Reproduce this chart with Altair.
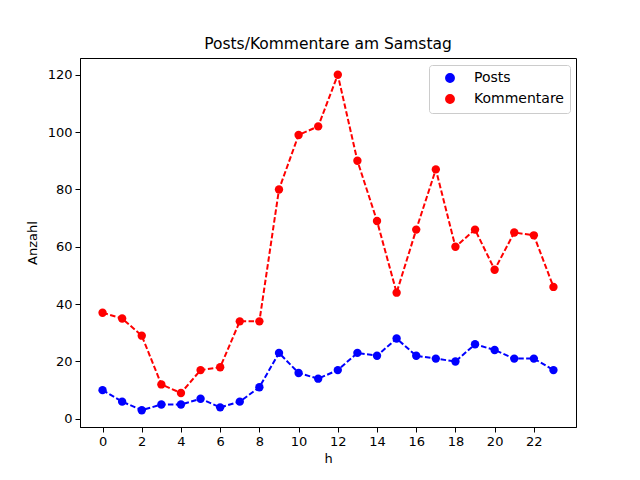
import altair as alt
import pandas as pd

hours = list(range(24))
posts = [10, 6, 3, 5, 5, 7, 4, 6, 11, 23, 16, 14, 17, 23, 22, 28, 22, 21, 20, 26, 24, 21, 21, 17]
kommentare = [37, 35, 29, 12, 9, 17, 18, 34, 34, 80, 99, 102, 120, 90, 69, 44, 66, 87, 60, 66, 52, 65, 64, 46]
series = ["Posts", "Kommentare"]
colors = ["#0000ff", "#ff0000"]

rows = []
for h, p, k in zip(hours, posts, kommentare):
    rows.append({"h": h, "Anzahl": p, "serie": "Posts"})
    rows.append({"h": h, "Anzahl": k, "serie": "Kommentare"})
df = pd.DataFrame(rows)

font = "DejaVu Sans"
x = alt.X("h:Q", title="h", scale=alt.Scale(domain=[-1.15, 24.15], nice=False, zero=False),
          axis=alt.Axis(values=list(range(0, 24, 2)), grid=False, tickSize=5, labelPadding=3,
                        titlePadding=4))
y = alt.Y("Anzahl:Q", title="Anzahl", scale=alt.Scale(domain=[-2.85, 125.85], nice=False, zero=False),
          axis=alt.Axis(values=list(range(0, 121, 20)), grid=False, tickSize=5, labelPadding=3,
                        titlePadding=8))
color = alt.Color("serie:N", scale=alt.Scale(domain=series, range=colors),
                  legend=alt.Legend(title=None, orient="none", legendX=349, legendY=7,
                                    symbolType="circle", symbolSize=70, symbolFillColor=None,
                                    labelFontSize=14, labelFont=font, rowPadding=5,
                                    padding=6, strokeColor="#cccccc", fillColor="white",
                                    cornerRadius=3, symbolOffset=8, labelOffset=17))

base = alt.Chart(df).encode(x=x, y=y, color=color)
lines = base.mark_line(strokeDash=[5.5, 2.4], strokeWidth=2)
points = base.mark_point(filled=True, shape="circle", size=70, opacity=1)

chart = alt.layer(lines, points).properties(
    width=496, height=369,
    title=alt.TitleParams("Posts/Kommentare am Samstag", fontSize=15.5, font=font,
                          fontWeight="normal", offset=6),
    autosize=alt.AutoSizeParams(type="none"),
    padding={"left": 72, "top": 50, "right": 56, "bottom": 45},
).configure_axis(
    labelFont=font, titleFont=font, labelFontSize=13, titleFontSize=13,
    titleFontWeight="normal", labelColor="black", titleColor="black",
    domainColor="black", tickColor="black",
).configure_view(stroke="black", strokeWidth=1)

chart.save("out.html", embed_options={"renderer": "svg", "actions": False})
